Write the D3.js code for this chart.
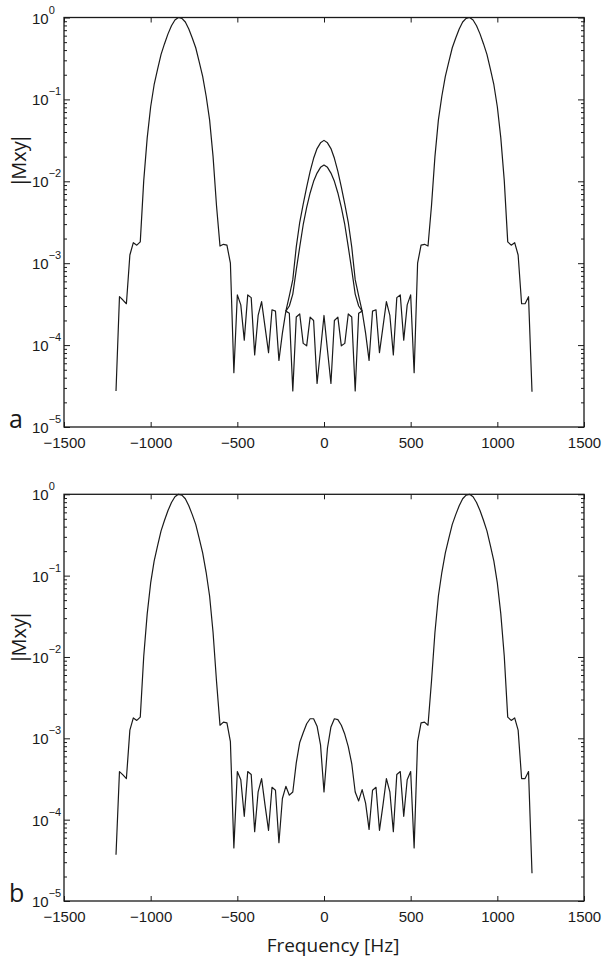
<!DOCTYPE html>
<html>
<head>
<meta charset="utf-8">
<script src="https://cdn.jsdelivr.net/npm/d3@7"></script>
<style>
  body { margin: 0; background: #fff; }
  svg { display: block; }
  .tick-label { font-family: "Liberation Sans", Arial, sans-serif; font-size: 15px; fill: #1a1a1a; }
  .title-label { font-family: "Open Sans", sans-serif; fill: #1a1a1a; }
</style>
</head>
<body>
<svg id="chart" width="608" height="963"></svg>
<script>
// sample grid, Hz
const freqHz = [
  -1200, -1180, -1160, -1140, -1120, -1100, -1080, -1060, -1040, -1020,
  -1000, -980, -960, -940, -920, -900, -880, -860, -840, -820,
  -800, -780, -760, -740, -720, -700, -680, -660, -640, -620,
  -600, -580, -560, -540, -520, -500, -480, -460, -440, -420,
  -400, -380, -360, -340, -320, -300, -280, -260, -240, -220,
  -200, -180, -160, -140, -120, -100, -80, -60, -40, -20,
  0, 20, 40, 60, 80, 100, 120, 140, 160, 180,
  200, 220, 240, 260, 280, 300, 320, 340, 360, 380,
  400, 420, 440, 460, 480, 500, 520, 540, 560, 580,
  600, 620, 640, 660, 680, 700, 720, 740, 760, 780,
  800, 820, 840, 860, 880, 900, 920, 940, 960, 980,
  1000, 1020, 1040, 1060, 1080, 1100, 1120, 1140, 1160, 1180,
  1200
];

// panel a, full response
const mxyA = [
  2.75e-5, 3.9e-4, 3.55e-4, 3.2e-4, 1.26e-3, 1.78e-3, 1.66e-3, 1.82e-3, 1.02e-2, 3.39e-2,
  8.13e-2, 0.151, 0.234, 0.355, 0.479, 0.631, 0.794, 0.933, 1.0, 0.977,
  0.881, 0.724, 0.562, 0.427, 0.288, 0.191, 0.110, 0.0562, 0.0200, 5.0e-3,
  1.62e-3, 1.70e-3, 1.66e-3, 1.0e-3, 4.6e-5, 4.1e-4, 3.1e-4, 1.15e-4, 4.1e-4, 3.8e-4,
  7.6e-5, 2.3e-4, 3.4e-4, 1.66e-4, 8.1e-5, 2.7e-4, 2.6e-4, 6.5e-5, 1.4e-4, 2.6e-4,
  2.45e-4, 2.75e-5, 2.2e-4, 2.4e-4, 1.05e-4, 9.8e-5, 2.2e-4, 2.0e-4, 3.4e-5, 8.7e-5,
  2.3e-4, 8.7e-5, 3.4e-5, 2.0e-4, 2.2e-4, 9.8e-5, 1.05e-4, 2.4e-4, 2.2e-4, 2.75e-5,
  2.45e-4, 2.6e-4, 1.4e-4, 6.5e-5, 2.6e-4, 2.7e-4, 8.1e-5, 1.66e-4, 3.4e-4, 2.3e-4,
  7.6e-5, 3.8e-4, 4.1e-4, 1.15e-4, 3.1e-4, 4.1e-4, 4.6e-5, 1.0e-3, 1.66e-3, 1.70e-3,
  1.62e-3, 5.0e-3, 0.0200, 0.0562, 0.110, 0.191, 0.288, 0.427, 0.562, 0.724,
  0.881, 0.977, 1.0, 0.933, 0.794, 0.631, 0.479, 0.355, 0.234, 0.151,
  8.13e-2, 3.39e-2, 1.02e-2, 1.82e-3, 1.66e-3, 1.78e-3, 1.26e-3, 3.2e-4, 3.2e-4, 3.9e-4,
  2.7e-5
];

// panel a, the two centre lobes
const humpFreqHz = [-220, -200, -180, -160, -140, -120, -100, -80, -60, -40, -20, 0,
  20, 40, 60, 80, 100, 120, 140, 160, 180, 200, 220];
const humpHigh = [2.6e-4, 3.98e-4, 6.3e-4, 1.58e-3, 3.16e-3, 5.25e-3, 8.5e-3, 1.32e-2, 1.91e-2, 2.51e-2, 2.95e-2, 3.16e-2,
  2.95e-2, 2.51e-2, 1.91e-2, 1.32e-2, 8.5e-3, 5.25e-3, 3.16e-3, 1.58e-3, 6.3e-4, 3.98e-4, 2.6e-4];
const humpLow = [2.6e-4, 3.0e-4, 4.2e-4, 8.3e-4, 1.58e-3, 2.95e-3, 4.8e-3, 7.2e-3, 1.0e-2, 1.26e-2, 1.48e-2, 1.58e-2,
  1.48e-2, 1.26e-2, 1.0e-2, 7.2e-3, 4.8e-3, 2.95e-3, 1.58e-3, 8.3e-4, 4.2e-4, 3.0e-4, 2.6e-4];

// panel b
const mxyB = [
  3.7e-5, 3.9e-4, 3.55e-4, 3.2e-4, 1.26e-3, 1.78e-3, 1.66e-3, 1.82e-3, 1.02e-2, 3.39e-2,
  8.13e-2, 0.151, 0.234, 0.355, 0.479, 0.631, 0.794, 0.933, 1.0, 0.977,
  0.881, 0.724, 0.562, 0.427, 0.288, 0.191, 0.110, 0.0562, 0.0200, 5.0e-3,
  1.45e-3, 1.58e-3, 1.55e-3, 9.1e-4, 4.5e-5, 3.9e-4, 3.1e-4, 1.1e-4, 3.9e-4, 3.6e-4,
  7.1e-5, 2.2e-4, 3.2e-4, 1.5e-4, 7.4e-5, 2.5e-4, 2.3e-4, 5.2e-5, 1.82e-4, 2.57e-4,
  2.0e-4, 2.19e-4, 5.0e-4, 8.9e-4, 1.17e-3, 1.51e-3, 1.74e-3, 1.74e-3, 1.41e-3, 8.3e-4,
  2.19e-4, 7.6e-4, 1.38e-3, 1.74e-3, 1.70e-3, 1.45e-3, 1.12e-3, 7.9e-4, 4.9e-4, 2.19e-4,
  1.7e-4, 2.34e-4, 1.6e-4, 7.6e-5, 2.3e-4, 2.5e-4, 7.4e-5, 1.5e-4, 3.2e-4, 2.2e-4,
  7.1e-5, 3.6e-4, 3.9e-4, 1.1e-4, 3.1e-4, 3.9e-4, 4.5e-5, 9.1e-4, 1.55e-3, 1.58e-3,
  1.45e-3, 5.0e-3, 0.0200, 0.0562, 0.110, 0.191, 0.288, 0.427, 0.562, 0.724,
  0.881, 0.977, 1.0, 0.933, 0.794, 0.631, 0.479, 0.355, 0.234, 0.151,
  8.13e-2, 3.39e-2, 1.02e-2, 1.82e-3, 1.66e-3, 1.78e-3, 1.26e-3, 3.2e-4, 3.2e-4, 3.9e-4,
  2.2e-5
];

const xTicks = [-1500, -1000, -500, 0, 500, 1000, 1500];
const yDecades = [1e-5, 1e-4, 1e-3, 1e-2, 1e-1, 1];

const svg = d3.select('#chart');
const left = 64, right = 584;
const ink = '#1a1a1a';

const x = d3.scaleLinear().domain([-1500, 1500]).range([left, right]);

const panels = [
  { top: 17.5, bottom: 427, letter: 'a', lines: [
      { f: freqHz, v: mxyA }, { f: humpFreqHz, v: humpHigh }, { f: humpFreqHz, v: humpLow }] },
  { top: 494.3, bottom: 901, letter: 'b', lines: [{ f: freqHz, v: mxyB }] }
];

// minor ticks 2..9 per decade
const yMinor = [];
yDecades.slice(0, -1).forEach(d => { for (let k = 2; k <= 9; k++) yMinor.push(d * k); });

const fmtX = d => d < 0 ? '\u2212' + Math.abs(d) : String(d);

panels.forEach(p => {
  const y = d3.scaleLog().domain([1e-5, 1]).range([p.bottom, p.top]);
  const g = svg.append('g');

  const line = d3.line().x(d => x(d[0])).y(d => y(d[1]));
  p.lines.forEach(s => {
    g.append('path')
      .datum(s.f.map((f, i) => [f, s.v[i]]))
      .attr('d', line)
      .attr('fill', 'none')
      .attr('stroke', ink)
      .attr('stroke-width', 1.2)
      .attr('stroke-linejoin', 'round');
  });

  // inward ticks on all four sides
  const axes = [
    [d3.axisBottom(x).tickValues(xTicks).tickSize(-5).tickPadding(10).tickFormat(fmtX), `translate(0,${p.bottom})`, true],
    [d3.axisTop(x).tickValues(xTicks).tickSize(-5).tickFormat(''), `translate(0,${p.top})`, false],
    [d3.axisLeft(y).tickValues(yDecades).tickSize(-6).tickFormat(''), `translate(${left},0)`, false],
    [d3.axisLeft(y).tickValues(yMinor).tickSize(-3).tickFormat(''), `translate(${left},0)`, false],
    [d3.axisRight(y).tickValues(yDecades).tickSize(-6).tickFormat(''), `translate(${right},0)`, false],
    [d3.axisRight(y).tickValues(yMinor).tickSize(-3).tickFormat(''), `translate(${right},0)`, false]
  ];
  axes.forEach(([ax, tr, labels]) => {
    const a = g.append('g').attr('transform', tr).call(ax.tickSizeOuter(0));
    a.select('.domain').remove();
    a.selectAll('line').attr('stroke', ink).attr('stroke-width', 1);
    if (labels) {
      a.selectAll('text').attr('class', 'tick-label').attr('fill', ink)
        .style('font-size', '15px').style('font-family', '"Liberation Sans", Arial, sans-serif');
    }
  });

  // y labels as 10^k
  yDecades.forEach(v => {
    const k = Math.round(Math.log10(v));
    const t = g.append('text').attr('class', 'tick-label')
      .attr('x', 32).attr('y', y(v) + 6);
    t.append('tspan').text('10');
    t.append('tspan').attr('dy', -10).style('font-size', '11px')
      .text(k === 0 ? '0' : '\u2212' + Math.abs(k));
  });

  g.append('rect')
    .attr('x', left).attr('y', p.top)
    .attr('width', right - left).attr('height', p.bottom - p.top)
    .attr('fill', 'none').attr('stroke', ink).attr('stroke-width', 1.3);

  // |Mxy| with the bars pulled in tight
  const yl = g.append('text').attr('class', 'title-label')
    .attr('transform', `translate(26,${p.top + 143}) rotate(-90)`)
    .attr('text-anchor', 'middle')
    .style('font-size', '20px');
  yl.append('tspan').text('|');
  yl.append('tspan').attr('dx', -3).text('Mxy');
  yl.append('tspan').attr('dx', -3).text('|');

  g.append('text').attr('class', 'title-label')
    .attr('x', 9).attr('y', p.bottom + 1)
    .style('font-size', '25px')
    .text(p.letter);
});

svg.append('text').attr('class', 'title-label')
  .attr('x', 333).attr('y', 952)
  .attr('text-anchor', 'middle')
  .style('font-size', '19px')
  .text('Frequency [Hz]');
</script>
</body>
</html>
